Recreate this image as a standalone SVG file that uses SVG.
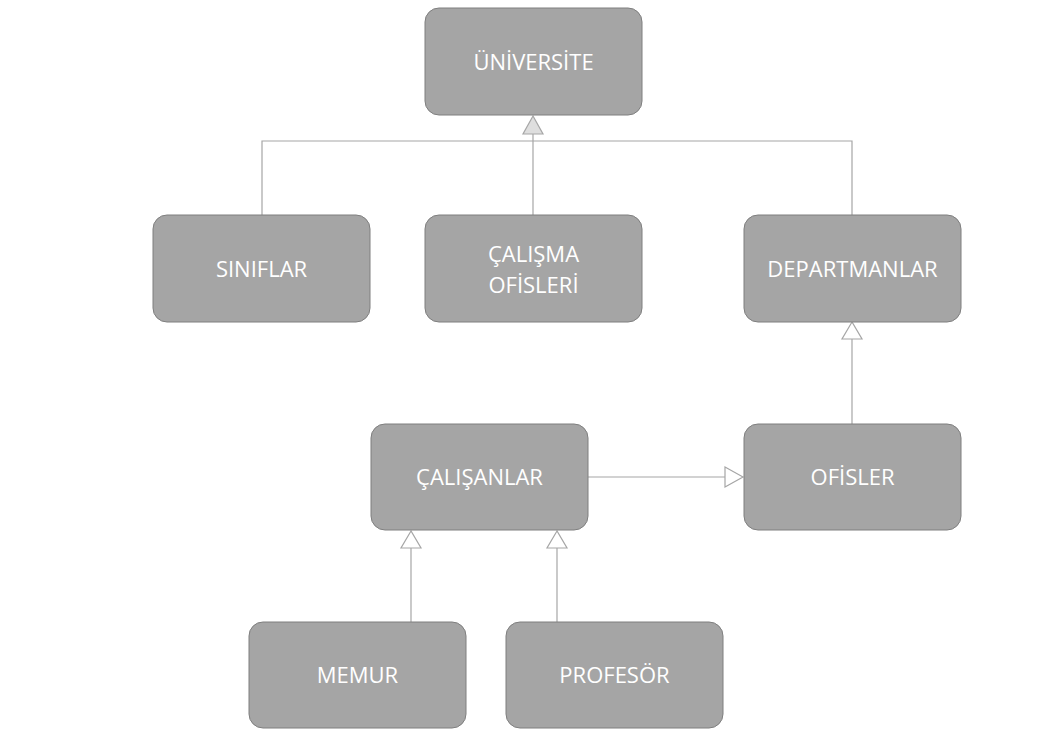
<svg xmlns="http://www.w3.org/2000/svg" width="1056" height="746" viewBox="0 0 1056 746">
<style>
.n{fill:#a5a5a5;stroke:#7f7f7f;stroke-width:1}
.t{fill:#ffffff;font-family:"Open Sans","Noto Sans","Liberation Sans",sans-serif;font-size:22px;text-anchor:middle}
.c{fill:none;stroke:#a6a6a6;stroke-width:1.2}
.h{fill:#ffffff;stroke:#a6a6a6;stroke-width:1.2}
.hg{fill:#dedede;stroke:#a6a6a6;stroke-width:1.2}
</style>
<rect width="1056" height="746" fill="#ffffff"/>
<g id="connectors">
<path class="c" d="M262,215 V141 H852 V215"/>
<path class="c" d="M533,215 V134"/>
<polygon class="hg" points="533,116 523,134 543,134"/>
<path class="c" d="M852,424 V339"/>
<polygon class="h" points="852,322 842,339 862,339"/>
<path class="c" d="M588,477 H725"/>
<polygon class="h" points="743,477 725,467 725,487"/>
<path class="c" d="M411,622 V548"/>
<polygon class="h" points="411,531 401,548 421,548"/>
<path class="c" d="M557,622 V548"/>
<polygon class="h" points="557,531 547,548 567,548"/>
</g>
<g id="universite"><rect class="n" x="425" y="8" width="217" height="107" rx="14"/><text class="t" x="533.5" y="70">ÜNİVERSİTE</text></g>
<g id="siniflar"><rect class="n" x="153" y="215" width="217" height="107" rx="14"/><text class="t" x="261.5" y="277">SINIFLAR</text></g>
<g id="calisma-ofisleri"><rect class="n" x="425" y="215" width="217" height="107" rx="14"/><text class="t" x="533.5" y="262">ÇALIŞMA</text><text class="t" x="533.5" y="293">OFİSLERİ</text></g>
<g id="departmanlar"><rect class="n" x="744" y="215" width="217" height="107" rx="14"/><text class="t" x="852.5" y="277">DEPARTMANLAR</text></g>
<g id="calisanlar"><rect class="n" x="371" y="424" width="217" height="106" rx="14"/><text class="t" x="479.5" y="485">ÇALIŞANLAR</text></g>
<g id="ofisler"><rect class="n" x="744" y="424" width="217" height="106" rx="14"/><text class="t" x="852.5" y="485">OFİSLER</text></g>
<g id="memur"><rect class="n" x="249" y="622" width="217" height="106" rx="14"/><text class="t" x="357.5" y="683">MEMUR</text></g>
<g id="profesor"><rect class="n" x="506" y="622" width="217" height="106" rx="14"/><text class="t" x="614.5" y="683">PROFESÖR</text></g>
</svg>
